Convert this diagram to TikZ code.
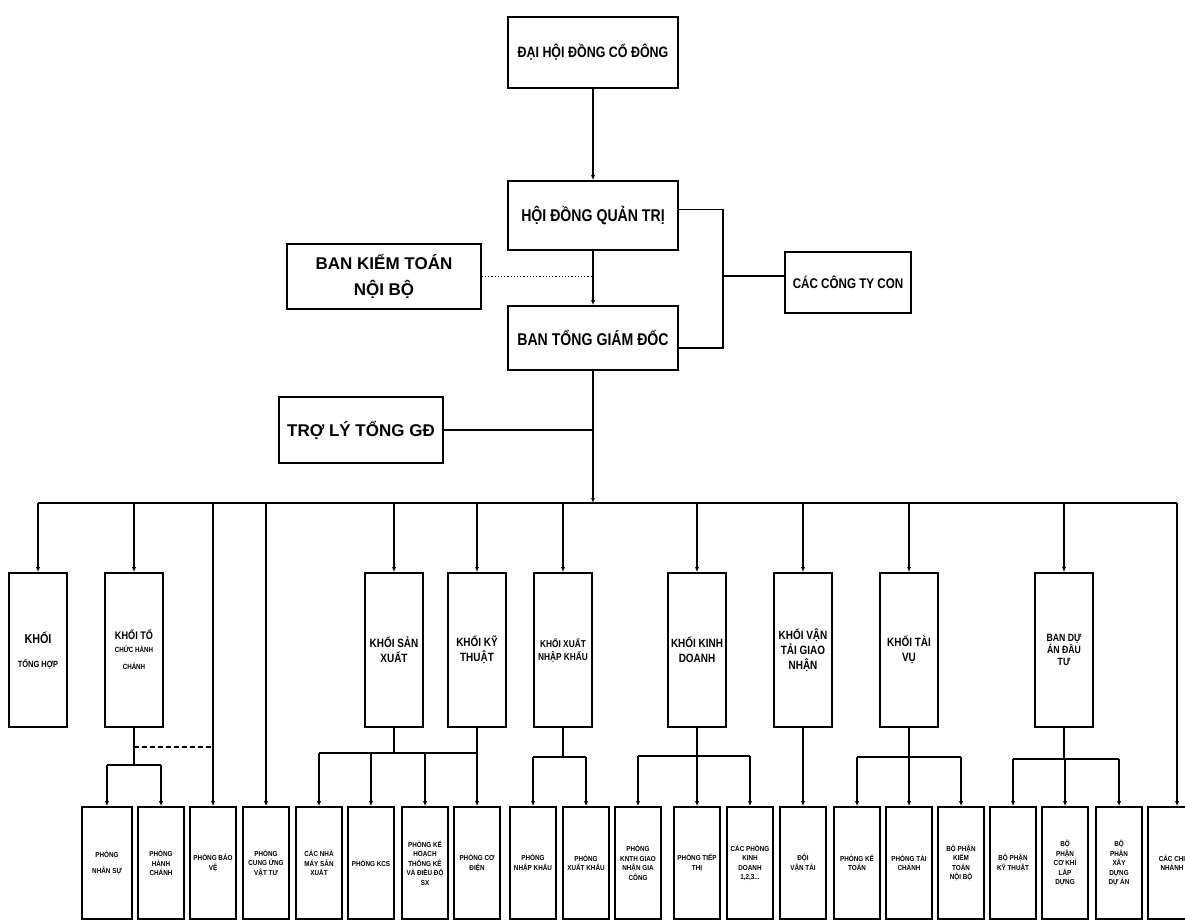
\documentclass[tikz,border=0pt]{standalone}
\usepackage{fontspec}
\setmainfont{Liberation Sans}
\newfontfamily\narrowf[FakeStretch=0.83]{Liberation Sans}
\newfontfamily\midf[FakeStretch=0.88]{Liberation Sans}
\usetikzlibrary{arrows.meta,calc}
\tikzset{
 box/.style={draw, line width=1.6pt, rectangle, inner sep=1pt, align=center},
 topbox/.style={box, minimum width=170pt, font=\narrowf\bfseries\fontsize{17}{20}\selectfont},
 khoibox/.style={box, minimum width=58pt, minimum height=154pt, font=\narrowf\bfseries\fontsize{12}{15}\selectfont},
 phongbox/.style={box, minimum width=46pt, minimum height=112pt, font=\midf\bfseries\fontsize{7.2}{9.5}\selectfont},
 conn/.style={line width=1.2pt},
 arr/.style={conn, -{Latex[length=5pt,width=4pt]}},
}
\begin{document}
\begin{tikzpicture}[x=1pt,y=-1pt]
\useasboundingbox (0,0) rectangle (1185,923);
% top level
\node[topbox, minimum height=71pt, font=\narrowf\bfseries\fontsize{15}{18}\selectfont] (dh) at (593,52.5) {ĐẠI HỘI ĐỒNG CỔ ĐÔNG};
\node[topbox, minimum height=69pt] (hd) at (593,215.5) {HỘI ĐỒNG QUẢN TRỊ};
\node[topbox, minimum height=64pt] (tgd) at (593,338) {BAN TỔNG GIÁM ĐỐC};
\node[box, minimum width=194pt, minimum height=65pt, font=\bfseries\fontsize{17}{26}\selectfont] (kt) at (384,276.5) {BAN KIỂM TOÁN\\NỘI BỘ};
\node[box, minimum width=126pt, minimum height=61pt, font=\narrowf\bfseries\fontsize{14}{17}\selectfont] (ctc) at (848,282.5) {CÁC CÔNG TY CON};
\node[box, minimum width=164pt, minimum height=66pt, font=\bfseries\fontsize{17}{20}\selectfont] (tl) at (361,430) {TRỢ LÝ TỔNG GĐ};
\coordinate (br) at (723,276);
\coordinate (bus) at (593,503);
\coordinate (busR) at (1177,503);
% level 2
\node[khoibox] (kth) at (38,650) {{\fontsize{13}{15}\selectfont KHỐI}\\[9pt]{\fontsize{9}{11}\selectfont TỔNG HỢP}};
\node[khoibox] (ktc) at (134,650) {{\fontsize{11}{14}\selectfont KHỐI TỔ}\\[-2pt]{\fontsize{7.5}{10}\selectfont CHỨC HÀNH}\\[2pt]{\fontsize{7.5}{10}\selectfont CHÁNH}};
\node[khoibox] (ksx) at (394,650) {KHỐI SẢN\\XUẤT};
\node[khoibox] (kkt) at (477,650) {KHỐI KỸ\\THUẬT};
\node[khoibox, font=\narrowf\bfseries\fontsize{10}{13}\selectfont] (kxn) at (563,650) {KHỐI XUẤT\\NHẬP KHẨU};
\node[khoibox] (kkd) at (697,650) {KHỐI KINH\\DOANH};
\node[khoibox] (kvt) at (803,650) {KHỐI VẬN\\TẢI GIAO\\NHẬN};
\node[khoibox] (ktv) at (909,650) {KHỐI TÀI\\VỤ};
\node[khoibox, font=\narrowf\bfseries\fontsize{10.5}{12}\selectfont] (kda) at (1064,650) {BAN DỰ\\ÁN ĐẦU\\TƯ};
% level 3
\node[phongbox, minimum width=50pt] (ns) at (107,863) {PHÒNG\\[6pt]NHÂN SỰ};
\node[phongbox] (hc) at (161,863) {PHÒNG\\HÀNH\\CHÁNH};
\node[phongbox] (bv) at (213,863) {PHÒNG BẢO\\VỆ};
\node[phongbox] (cu) at (266,863) {PHÒNG\\CUNG ỨNG\\VẬT TƯ};
\node[phongbox] (nm) at (319,863) {CÁC NHÀ\\MÁY SẢN\\XUẤT};
\node[phongbox] (kcs) at (371,863) {PHÒNG KCS};
\node[phongbox] (kh) at (425,863) {PHÒNG KẾ\\HOẠCH\\THỐNG KÊ\\VÀ ĐIỀU ĐỘ\\SX};
\node[phongbox] (cd) at (477,863) {PHÒNG CƠ\\ĐIỆN};
\node[phongbox] (nk) at (533,863) {PHÒNG\\NHẬP KHẨU};
\node[phongbox] (xk) at (586,863) {PHÒNG\\XUẤT KHẨU};
\node[phongbox] (gn) at (638,863) {PHÒNG\\KNTH GIAO\\NHẬN GIA\\CÔNG};
\node[phongbox] (tt) at (697,863) {PHÒNG TIẾP\\THỊ};
\node[phongbox] (pkd) at (750,863) {CÁC PHÒNG\\KINH\\DOANH\\1,2,3...};
\node[phongbox] (dvt) at (803,863) {ĐỘI\\VẬN TẢI};
\node[phongbox] (kto) at (857,863) {PHÒNG KẾ\\TOÁN};
\node[phongbox] (tc) at (909,863) {PHÒNG TÀI\\CHÁNH};
\node[phongbox] (ktnb) at (961,863) {BỘ PHẬN\\KIỂM\\TOÁN\\NỘI BỘ};
\node[phongbox] (bkt) at (1013,863) {BỘ PHẬN\\KỸ THUẬT};
\node[phongbox] (ck) at (1065,863) {BỘ\\PHẬN\\CƠ KHÍ\\LẮP\\DỰNG};
\node[phongbox] (xd) at (1119,863) {BỘ\\PHẬN\\XÂY\\DỰNG\\DỰ ÁN};
\node[phongbox, minimum width=48pt] (cn) at (1172,863) {CÁC CHI\\NHÁNH};
% bars
\coordinate (tcbar) at (134,765);
\coordinate (dsh) at (134,747);
\coordinate (sxbar) at (394,753);
\coordinate (xnbar) at (563,757);
\coordinate (kdbar) at (697,756);
\coordinate (tvbar) at (909,757);
\coordinate (dabar) at (1064,759);
% top connectors
\draw[arr] (dh) -- (hd);
\draw[arr] (hd) -- (tgd);
\draw[conn, dotted] (kt.east) -- (kt.east -| hd.south);
\draw[conn] ([yshift=6pt]hd.east) -| ([yshift=-10pt]tgd.east -| br) -- ([yshift=-10pt]tgd.east);
\draw[conn] (br) -- (br -| ctc.west);
\draw[arr] (tgd.south) -- (bus);
\draw[conn] (tl.east) -- (tl.east -| tgd.south);
% bus
\draw[conn] (kth.north |- bus) -- (busR);
\draw[arr] (busR) -- (busR |- cn.north);
\foreach \n in {kth,ktc,ksx,kkt,kxn,kkd,kvt,ktv,kda,bv,cu}
  \draw[arr] (\n.north |- bus) -- (\n.north);
% khoi to chuc
\draw[conn] (ktc.south) -- (tcbar);
\draw[conn] (ns.north |- tcbar) -- (hc.north |- tcbar);
\draw[arr] (ns.north |- tcbar) -- (ns.north);
\draw[arr] (hc.north |- tcbar) -- (hc.north);
\draw[conn, dash pattern=on 5pt off 3pt] (dsh) -- (dsh -| bv.north);
% san xuat / ky thuat
\draw[conn] (ksx.south) -- (sxbar);
\draw[conn] (nm.north |- sxbar) -- (cd.north |- sxbar);
\foreach \n in {nm,kcs,kh}
  \draw[arr] (\n.north |- sxbar) -- (\n.north);
\draw[arr] (kkt.south) -- (cd.north);
% xuat nhap khau
\draw[conn] (kxn.south) -- (xnbar);
\draw[conn] (nk.north |- xnbar) -- (xk.north |- xnbar);
\foreach \n in {nk,xk}
  \draw[arr] (\n.north |- xnbar) -- (\n.north);
% kinh doanh
\draw[conn] (kkd.south) -- (kdbar);
\draw[conn] (gn.north |- kdbar) -- (pkd.north |- kdbar);
\foreach \n in {gn,tt,pkd}
  \draw[arr] (\n.north |- kdbar) -- (\n.north);
% van tai
\draw[arr] (kvt.south) -- (dvt.north);
% tai vu
\draw[conn] (ktv.south) -- (tvbar);
\draw[conn] (kto.north |- tvbar) -- (ktnb.north |- tvbar);
\foreach \n in {kto,tc,ktnb}
  \draw[arr] (\n.north |- tvbar) -- (\n.north);
% du an
\draw[conn] (kda.south) -- (dabar);
\draw[conn] (bkt.north |- dabar) -- (xd.north |- dabar);
\foreach \n in {bkt,ck,xd}
  \draw[arr] (\n.north |- dabar) -- (\n.north);
\end{tikzpicture}
\end{document}
